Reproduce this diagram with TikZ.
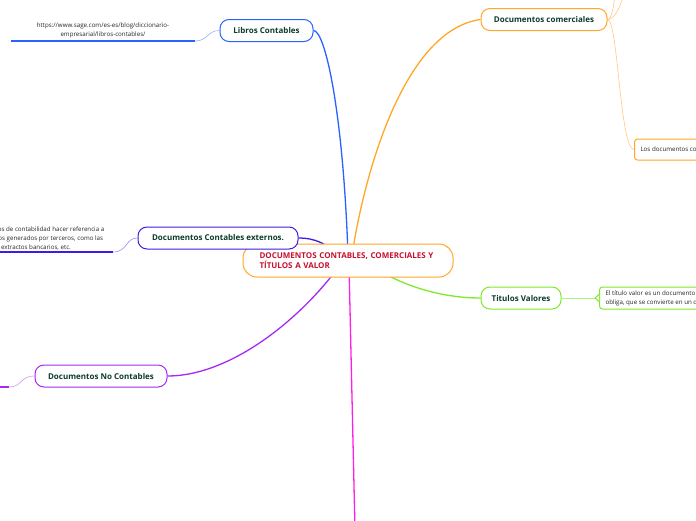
\documentclass[tikz,border=0pt]{standalone}
\usepackage{fontspec}
\setmainfont{Open Sans}
\usepackage{xcolor}
\usepackage{tikz}
\usetikzlibrary{positioning,calc,backgrounds}
\definecolor{mapBlue}{HTML}{2962FF}
\definecolor{mapOrange}{HTML}{FFA726}
\definecolor{mapIndigo}{HTML}{3D1DE6}
\definecolor{mapPurple}{HTML}{A52AF0}
\definecolor{mapGreen}{HTML}{7EE82A}
\definecolor{mapPink}{HTML}{FF1EE6}
\definecolor{topicInk}{HTML}{0D3B2E}
\definecolor{hubInk}{HTML}{C8102E}
\tikzset{
  topic/.style ={rectangle, rounded corners=9pt, draw, fill=white, line width=1pt,
                 minimum height=22pt, inner sep=0pt, text=topicInk,
                 font=\fontsize{8}{10}\selectfont\bfseries},
  hub/.style   ={topic, rounded corners=14pt, draw=mapOrange, minimum width=210pt,
                 minimum height=33pt, text width=177pt, inner xsep=16.5pt, align=left,
                 text=hubInk, font=\fontsize{8}{10.5}\selectfont\bfseries},
  note/.style  ={font=\fontsize{6.2}{9.3}\selectfont, align=center, text=black!85,
                 inner sep=0pt},
  notebox/.style={rectangle, rounded corners=3pt, draw, fill=white, line width=1pt,
                 minimum height=21pt, inner xsep=6pt, anchor=west, align=left,
                 font=\fontsize{6.2}{9}\selectfont, text=black!85},
  branch/.style={line width=1.3pt},
  twig/.style  ={line width=0.6pt},
  rule/.style  ={line width=1.4pt},
}
% name/x/y/width/colour/label of the first-level topics
\def\topiclist{lib/266.5/30.5/93/mapBlue/Libros Contables,
  com/544/19.5/126/mapOrange/Documentos comerciales,
  ext/218/238/160/mapIndigo/Documentos Contables externos.,
  noc/101/376/132/mapPurple/Documentos No Contables,
  tit/521/298/80/mapGreen/Titulos Valores}

\begin{document}
\begin{tikzpicture}[x=1pt,y=-1pt]
\useasboundingbox (0,0) rectangle (696,520);
\clip (0,0) rectangle (696,520);
\node[hub] (hub) at (348,260.5) {DOCUMENTOS CONTABLES, COMERCIALES Y\\T\'ITULOS A VALOR};
\foreach \n/\x/\y/\w/\c/\t in \topiclist
  {\node[topic, draw=\c, minimum width=\w pt] (\n) at (\x,\y) {\t};}

% leaves
\node[note] (urlnote) at (103,30.5)
  {https://www.sage.com/es-es/blog/diccionario-\\empresarial/libros-contables/};
\coordinate (urlL) at (11,41);  \coordinate (urlR) at (195,41);
\node[note] (extnote) at (36,238.5)
  {Los externos de contabilidad hacer referencia a\\documentos generados por terceros, como las\\extractos bancarios, etc.};
\coordinate (extL) at (-5,252); \coordinate (extR) at (113,252);
\coordinate (nocL) at (-5,387); \coordinate (nocR) at (9,387);
\node[notebox, draw=mapOrange] (comnote) at (634,149.5) {Los documentos comerciales son aquellos};
\node[notebox, draw=mapGreen, minimum height=22pt] (titnote) at (599,298)
  {El t\'itulo valor es un documento escrito que\\obliga, que se convierte en un derecho};
\draw[mapGreen, line width=1pt, fill=white, line join=round]
  ($(titnote.west)+(0,3.5)$) -- ++(-4,-3.5) -- ++(4,-3.5);
\coordinate (comup1) at (616,-15); \coordinate (comup2) at (626,-15);
\coordinate (pinkend) at (355,530);

\begin{scope}[on background layer]
  % first-level branches
  \draw[branch, mapBlue] (lib.east) .. controls (325,30.5) and (343,110) .. (348,255);
  \draw[branch, mapOrange] (352,255) .. controls (365,170) and (405,30) .. (com.west);
  \draw[branch, mapIndigo] (ext.east) .. controls (315,238) and (328,244) .. (336,255);
  \draw[branch, mapPurple] (noc.east) .. controls (230,376) and (300,320) .. (340,265);
  \draw[branch, mapGreen] (370,265) .. controls (400,285) and (440,298) .. (tit.west);
  \draw[branch, mapPink] (349,265) -- (pinkend);
  % notes and their twigs
  \draw[rule, mapBlue] (urlL) -- (urlR);
  \draw[twig, mapBlue!50] (urlR) .. controls (208,41) and (207,30.5) .. (lib.west);
  \draw[rule, mapIndigo] (extL) -- (extR);
  \draw[twig, mapIndigo!50] (extR) .. controls (128,252) and (125,238) .. (ext.west);
  \draw[rule, mapPurple] (nocL) -- (nocR);
  \draw[twig, mapPurple!50] (nocR) .. controls (22,387) and (20,376) .. (noc.west);
  \draw[twig, mapGreen!60] (tit.east) -- ($(titnote.west)+(-4,0)$);
  \draw[twig, mapOrange!60] (com.east) .. controls (618,19.5) and (620,150) .. (comnote.west);
  \draw[twig, mapOrange!60] (com.east) .. controls (612,19.5) and (614,5) .. (comup1);
  \draw[twig, mapOrange!60] (com.east) .. controls (615,19.5) and (622,5) .. (comup2);
\end{scope}
\end{tikzpicture}
\end{document}
